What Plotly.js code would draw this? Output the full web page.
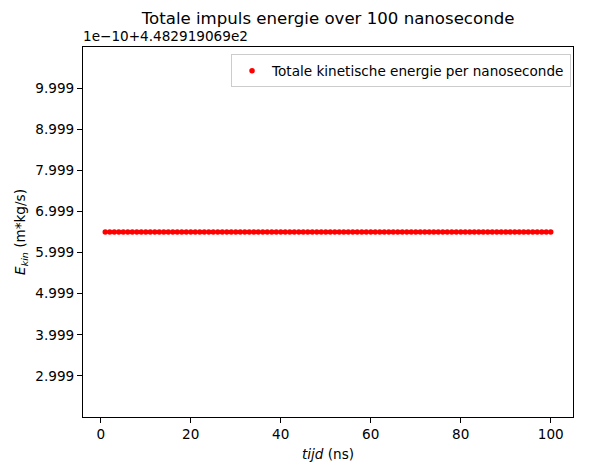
<!DOCTYPE html>
<html>
<head>
<meta charset="utf-8">
<script src="https://cdn.plot.ly/plotly-3.0.1.min.js"></script>
<style>html,body{margin:0;padding:0;background:#fff;}#chart{width:589px;height:474px;}</style>
</head>
<body>
<div id="chart"></div>
<script>
// time in nanoseconds
var tijd = [1,2,3,4,5,6,7,8,9,10,11,12,13,14,15,16,17,18,19,20,
  21,22,23,24,25,26,27,28,29,30,31,32,33,34,35,36,37,38,39,40,
  41,42,43,44,45,46,47,48,49,50,51,52,53,54,55,56,57,58,59,60,
  61,62,63,64,65,66,67,68,69,70,71,72,73,74,75,76,77,78,79,80,
  81,82,83,84,85,86,87,88,89,90,91,92,93,94,95,96,97,98,99,100];
// kinetic energy, in units of 1e-10 above offset 4.482919069e2
var energie = [6.5,6.5,6.5,6.5,6.5,6.5,6.5,6.5,6.5,6.5,6.5,6.5,6.5,6.5,6.5,6.5,6.5,6.5,6.5,6.5,
  6.5,6.5,6.5,6.5,6.5,6.5,6.5,6.5,6.5,6.5,6.5,6.5,6.5,6.5,6.5,6.5,6.5,6.5,6.5,6.5,
  6.5,6.5,6.5,6.5,6.5,6.5,6.5,6.5,6.5,6.5,6.5,6.5,6.5,6.5,6.5,6.5,6.5,6.5,6.5,6.5,
  6.5,6.5,6.5,6.5,6.5,6.5,6.5,6.5,6.5,6.5,6.5,6.5,6.5,6.5,6.5,6.5,6.5,6.5,6.5,6.5,
  6.5,6.5,6.5,6.5,6.5,6.5,6.5,6.5,6.5,6.5,6.5,6.5,6.5,6.5,6.5,6.5,6.5,6.5,6.5,6.5];
var yTickVals = [2.999,3.999,4.999,5.999,6.999,7.999,8.999,9.999];
var yTickText = ["2.999","3.999","4.999","5.999","6.999","7.999","8.999","9.999"];
var xTickVals = [0,20,40,60,80,100];
var offsetText = "1e\u221210+4.482919069e2";

var font = "DejaVu Sans, sans-serif";
var fs = 13.6;
var trace = {
  x: tijd, y: energie, type: "scatter", mode: "markers",
  name: "Totale kinetische energie per nanoseconde",
  marker: {color: "#ff0000", size: 5.5}
};
var layout = {
  width: 589, height: 474,
  margin: {l: 83, r: 16, t: 47, b: 57},
  paper_bgcolor: "#fff", plot_bgcolor: "#fff",
  font: {family: font, size: fs, color: "#000"},
  title: {text: "Totale impuls energie over 100 nanoseconde", font: {family: font, size: 16.6, color: "#000"},
    x: 0.557, xanchor: "center", y: 0.962, yanchor: "middle"},
  xaxis: {
    range: [-3.95, 104.95], tickvals: xTickVals, showgrid: false, zeroline: false,
    showline: true, linecolor: "#000", linewidth: 1, mirror: true,
    ticks: "outside", ticklen: 5, tickcolor: "#000",
    tickfont: {family: font, size: fs},
    title: {text: "<i>tijd</i> (ns)", font: {family: font, size: fs}, standoff: 8}
  },
  yaxis: {
    range: [2.0, 11.0], tickvals: yTickVals, ticktext: yTickText, showgrid: false, zeroline: false,
    showline: true, linecolor: "#000", linewidth: 1, mirror: true,
    ticks: "outside", ticklen: 5, tickcolor: "#000",
    tickfont: {family: font, size: fs},
    title: {text: "<i>E</i><sub><i>kin</i></sub> (m*kg/s)", font: {family: font, size: fs}, standoff: 6}
  },
  showlegend: true,
  legend: {x: 0.996, xanchor: "right", y: 0.98, yanchor: "top",
    bgcolor: "rgba(255,255,255,0.8)", bordercolor: "#cccccc", borderwidth: 1,
    font: {family: font, size: fs}},
  annotations: [{text: offsetText, xref: "paper", yref: "paper", x: 0, y: 1, xanchor: "left", yanchor: "bottom",
    showarrow: false, font: {family: font, size: fs}, xshift: -2, yshift: 1}]
};
Plotly.newPlot("chart", [trace], layout, {displayModeBar: false, staticPlot: true});
</script>
</body>
</html>
